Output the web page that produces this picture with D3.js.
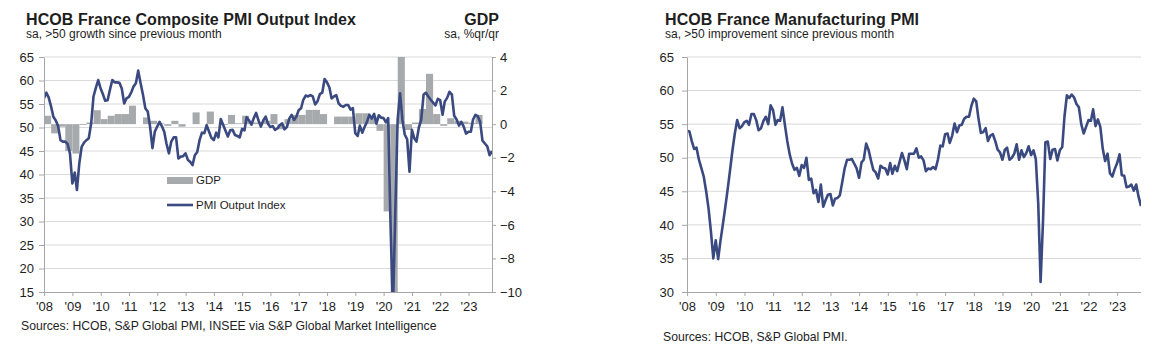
<!DOCTYPE html>
<html>
<head>
<meta charset="utf-8">
<script src="https://cdn.jsdelivr.net/npm/d3@7"></script>
<style>
  body { margin: 0; background: #fff; font-family: "Liberation Sans", Arial, sans-serif; }
  svg text { fill: #1e1e1e; }
</style>
</head>
<body>
<svg id="chart" width="1157" height="352"></svg>
<script>
// monthly values, first point = Dec 2007, last = Oct 2023 (plotted at month end)
const compositePmi = [
  56.2,
  57.4, 56.4, 54.5, 52.3, 51.5, 50.3, 47.3, 47.0, 47.0, 46.5, 44.5, 38.1,   // 2008
  40.4, 36.7, 42.4, 45.9, 46.8, 47.3, 47.7, 50.9, 56.6, 58.5, 60.1, 58.3,   // 2009
  57.0, 55.7, 55.8, 58.0, 60.1, 59.6, 59.6, 59.5, 58.3, 55.1, 56.2, 56.5,   // 2010
  57.5, 58.7, 59.4, 62.1, 59.4, 57.0, 54.1, 53.4, 50.2, 45.6, 49.1, 50.2,   // 2011
  51.2, 50.3, 49.1, 46.5, 44.5, 47.0, 47.9, 47.9, 43.4, 43.8, 43.9, 44.5,   // 2012
  43.1, 42.7, 42.0, 44.1, 44.8, 47.3, 48.9, 48.8, 50.5, 49.1, 47.8, 47.3,   // 2013
  48.9, 47.9, 51.8, 50.6, 49.3, 48.1, 49.4, 49.5, 48.4, 48.2, 47.9, 49.7,   // 2014
  49.4, 52.2, 51.5, 50.6, 52.0, 53.1, 51.5, 50.2, 51.5, 52.3, 50.8, 50.1,   // 2015
  50.3, 49.5, 49.8, 50.5, 50.9, 49.6, 50.1, 51.9, 52.7, 51.6, 52.3, 53.7,   // 2016
  54.1, 55.9, 56.8, 56.6, 56.9, 56.6, 54.9, 55.6, 57.1, 57.4, 60.3, 59.6,   // 2017
  58.5, 56.2, 56.6, 56.9, 55.1, 54.6, 54.4, 54.8, 54.8, 53.8, 54.1, 48.8,   // 2018
  48.2, 50.4, 48.9, 50.1, 51.2, 52.7, 51.9, 52.9, 50.8, 52.6, 52.1, 52.0,   // 2019
  51.1, 52.0, 28.9, 11.1, 32.1, 51.7, 57.3, 51.6, 48.5, 47.5, 40.6, 49.5,   // 2020
  47.7, 47.0, 50.0, 51.6, 57.0, 57.4, 56.6, 55.9, 55.3, 54.7, 56.1, 55.8,   // 2021
  52.7, 55.5, 56.3, 57.6, 57.0, 52.5, 51.7, 50.4, 51.2, 50.2, 48.7, 49.1,   // 2022
  49.1, 51.7, 52.7, 52.4, 51.2, 47.2, 46.6, 46.0, 44.1, 45.0                // 2023
];

const manufacturingPmi = [
  54.0,
  53.9, 52.5, 51.3, 51.5, 49.7, 48.5, 47.2, 45.0, 42.5, 39.0, 35.0, 37.7,   // 2008
  34.9, 37.5, 40.0, 42.5, 45.2, 48.0, 51.0, 53.6, 55.6, 54.4, 54.7, 55.3,   // 2009
  55.5, 54.9, 56.5, 56.5, 55.6, 54.1, 54.4, 55.5, 56.1, 55.0, 57.8, 57.1,   // 2010
  54.9, 55.6, 55.5, 57.5, 54.9, 52.5, 50.5, 49.1, 48.2, 48.5, 47.3, 48.9,   // 2011
  48.5, 50.0, 46.7, 46.9, 44.7, 45.2, 43.4, 46.0, 42.7, 43.7, 44.5, 44.6,   // 2012
  42.9, 43.9, 44.0, 44.4, 46.4, 48.4, 49.7, 49.7, 49.8, 49.1, 48.4, 47.0,   // 2013
  49.3, 49.7, 52.1, 51.2, 49.6, 48.2, 47.8, 46.9, 48.8, 48.5, 48.4, 47.5,   // 2014
  49.2, 47.6, 48.8, 48.0, 49.4, 50.7, 49.6, 48.3, 50.6, 50.6, 50.6, 51.4,   // 2015
  50.0, 50.2, 49.6, 48.0, 48.4, 48.3, 48.6, 48.3, 49.7, 51.8, 51.7, 53.5,   // 2016
  53.6, 52.2, 53.3, 55.1, 53.8, 54.8, 54.9, 55.8, 56.1, 56.1, 57.7, 58.8,   // 2017
  58.4, 55.9, 53.7, 53.8, 54.4, 52.5, 53.3, 53.5, 52.5, 51.2, 50.8, 49.7,   // 2018
  51.2, 51.5, 49.7, 50.0, 50.6, 52.0, 49.7, 51.1, 50.1, 50.7, 51.7, 50.4,   // 2019
  51.1, 49.8, 43.2, 31.5, 40.6, 52.3, 52.4, 49.8, 51.2, 51.3, 49.6, 51.1,   // 2020
  51.6, 56.1, 59.3, 58.9, 59.4, 59.0, 58.0, 57.5, 55.0, 53.6, 54.6, 55.6,   // 2021
  55.5, 57.2, 54.7, 55.7, 54.6, 51.4, 49.5, 50.6, 47.7, 47.2, 48.3, 49.2,   // 2022
  50.5, 47.4, 47.3, 45.6, 45.7, 46.0, 45.1, 46.0, 44.2, 42.8                // 2023
];

// GDP, %q/q, Q1 2008 .. Q2 2023
const gdpQuarterly = [
  0.5, -0.55, -0.15, -1.6,
  -1.75, -0.05, 0.1, 0.83,
  0.3, 0.5, 0.6, 0.6,
  1.1, 0.0, 0.4, 0.2,
  0.05, -0.1, 0.2, -0.15,
  0.0, 0.7, 0.0, 0.75,
  0.0, -0.05, 0.55, 0.05,
  0.5, 0.1, 0.1, 0.2,
  0.6, -0.3, 0.3, 0.55,
  0.55, 0.85, 0.85, 0.6,
  0.0, 0.45, 0.45, 0.45,
  0.65, 0.65, 0.45, -0.4,
  -5.2, -13.5, 18.6, -0.35,
  0.1, 0.9, 3.0, 0.6,
  -0.1, 0.35, 0.2, 0.15,
  0.08, 0.55
];

const yearTicks = d3.range(2008, 2024);
const compositeTicks = d3.range(15, 70, 5);
const gdpTicks = d3.range(-10, 6, 2);
const manufacturingTicks = d3.range(30, 70, 5);

const NAVY = '#3a4a80';
const BAR = '#a7aaad';
const GRID = '#d9d9d9';
const AXIS = '#a6a6a6';

const svg = d3.select('#chart');
const monthDate = i => new Date(2008, i, 0);   // end of month, i = 0 -> Dec 2007
const yearFmt = d => "'" + String(d.getFullYear()).slice(2);

function styleAxis(g, size) {
  g.select('.domain').attr('stroke', AXIS);
  g.selectAll('.tick line').attr('stroke', AXIS);
  g.selectAll('.tick text').style('font-size', size + 'px').attr('fill', '#1e1e1e');
  g.attr('font-family', null);
}

function drawPanel(opt) {
  const { left, right, top, bottom } = opt;
  const x = d3.scaleTime()
    .domain([monthDate(0), monthDate(opt.series.length - 1)])
    .range([left, right]);
  const y = d3.scaleLinear().domain(opt.yDomain).range([bottom, top]);

  const clipId = 'clip-' + opt.id;
  svg.append('clipPath').attr('id', clipId)
    .append('rect').attr('x', left).attr('y', top)
    .attr('width', right - left).attr('height', bottom - top);

  // gridlines
  svg.append('g').selectAll('line')
    .data(opt.yTicks.filter(v => v !== opt.yDomain[0]))
    .enter().append('line')
    .attr('x1', left).attr('x2', right)
    .attr('y1', d => y(d)).attr('y2', d => y(d))
    .attr('stroke', GRID).attr('stroke-width', 1);

  if (opt.extra) opt.extra(x, clipId);

  svg.append('path')
    .datum(opt.series)
    .attr('clip-path', `url(#${clipId})`)
    .attr('fill', 'none')
    .attr('stroke', NAVY)
    .attr('stroke-width', 2.6)
    .attr('stroke-linejoin', 'round')
    .attr('d', d3.line().x((d, i) => x(monthDate(i))).y(d => y(d)));

  const ax = svg.append('g')
    .attr('transform', `translate(${left},0)`)
    .call(d3.axisLeft(y).tickValues(opt.yTicks).tickSize(5).tickSizeOuter(0).tickPadding(opt.yPad));
  styleAxis(ax, 13);

  const bx = svg.append('g')
    .attr('transform', `translate(0,${bottom})`)
    .call(d3.axisBottom(x)
      .tickValues(yearTicks.map(yr => new Date(yr, 0, 1)))
      .tickFormat(yearFmt).tickSize(4).tickSizeOuter(0).tickPadding(6));
  bx.select('.domain').attr('d', `M${left},0.5H${right}`);
  styleAxis(bx, 13);

  svg.append('text').attr('x', opt.titleX).attr('y', 25)
    .attr('textLength', opt.titleWidth).attr('lengthAdjust', 'spacing')
    .style('font-size', '16px').style('font-weight', 'bold').text(opt.title);
  svg.append('text').attr('x', opt.titleX).attr('y', 38)
    .style('font-size', '12px').text(opt.subtitle);
  svg.append('text').attr('x', opt.sourceX).attr('y', opt.sourceY)
    .style('font-size', '12.2px').text(opt.source);
}

// left panel: composite PMI + GDP
drawPanel({
  id: 'comp', left: 44, right: 492, top: 57, bottom: 292,
  series: compositePmi, yDomain: [15, 65], yTicks: compositeTicks, yPad: 5,
  title: 'HCOB France Composite PMI Output Index', titleWidth: 330,
  subtitle: 'sa, >50 growth since previous month',
  source: 'Sources: HCOB, S&P Global PMI, INSEE via S&P Global Market Intelligence',
  titleX: 26, sourceX: 21, sourceY: 330,
  extra: (x, clipId) => {
    const yG = d3.scaleLinear().domain([-10, 4]).range([292, 57]);
    svg.append('g').attr('clip-path', `url(#${clipId})`)
      .selectAll('rect').data(gdpQuarterly).enter().append('rect')
      .attr('x', (d, k) => x(new Date(2008, k * 3, 1)))
      .attr('width', (d, k) => x(new Date(2008, k * 3 + 3, 1)) - x(new Date(2008, k * 3, 1)))
      .attr('y', d => yG(Math.max(0, d)))
      .attr('height', d => Math.abs(yG(d) - yG(0)))
      .attr('fill', BAR);

    const rx = svg.append('g')
      .attr('transform', 'translate(492,0)')
      .call(d3.axisRight(yG).tickValues(gdpTicks).tickSize(4).tickSizeOuter(0).tickPadding(4));
    styleAxis(rx, 13);

    svg.append('text').attr('x', 499).attr('y', 25).attr('text-anchor', 'end')
      .style('font-size', '16px').style('font-weight', 'bold').text('GDP');
    svg.append('text').attr('x', 499).attr('y', 38).attr('text-anchor', 'end')
      .style('font-size', '12px').text('sa, %qr/qr');

    // legend
    const lg = svg.append('g');
    lg.append('rect').attr('x', 167).attr('y', 177).attr('width', 26).attr('height', 7).attr('fill', BAR);
    lg.append('text').attr('x', 196).attr('y', 184).style('font-size', '11.5px').text('GDP');
    lg.append('line').attr('x1', 167).attr('x2', 193).attr('y1', 205).attr('y2', 205)
      .attr('stroke', NAVY).attr('stroke-width', 2.6);
    lg.append('text').attr('x', 196).attr('y', 209).style('font-size', '11.5px').text('PMI Output Index');
  }
});

// right panel: manufacturing PMI
drawPanel({
  id: 'mfg', left: 687, right: 1141, top: 57, bottom: 292,
  series: manufacturingPmi, yDomain: [30, 65], yTicks: manufacturingTicks, yPad: 8,
  title: 'HCOB France Manufacturing PMI', titleWidth: 254,
  subtitle: 'sa, >50 improvement since previous month',
  source: 'Sources: HCOB, S&P Global PMI.',
  titleX: 665, sourceX: 663, sourceY: 341
});
</script>
</body>
</html>
